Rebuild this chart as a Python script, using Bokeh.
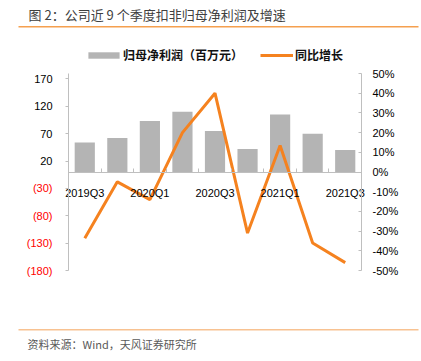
from bokeh.plotting import figure
from bokeh.models import (Range1d, LinearAxis, FixedTicker, PrintfTickFormatter, Label,
                          BoxAnnotation, Legend, LegendItem, ColumnDataSource)
from bokeh.embed import file_html
from bokeh.resources import INLINE

# ---- data ----
quarters = ["2019Q3", "2019Q4", "2020Q1", "2020Q2", "2020Q3", "2020Q4", "2021Q1", "2021Q2", "2021Q3"]
profit = [54, 62, 93, 110, 75, 42, 105, 70, 40]          # 百万元
growth = [-33.6, -5.0, -14.0, 20.0, 40.0, -31.0, 13.5, -36.0, -46.0]  # %
shown_quarters = ["2019Q3", "2020Q1", "2020Q3", "2021Q1", "2021Q3"]
left_ticks = [-180, -130, -80, -30, 20, 70, 120, 170]
right_ticks = [-50, -40, -30, -20, -10, 0, 10, 20, 30, 40, 50]

title_text = "图 2：公司近 9 个季度扣非归母净利润及增速"
source_text = "资料来源：Wind，天风证券研究所"
bar_name = "归母净利润（百万元）"
line_name = "同比增长"

CJK = "Noto Sans CJK SC"
ARIAL = "Liberation Sans"
AXIS_GRAY = "#bfbfbf"

# ---- layout (pixels) ----
W, H = 421, 361
PL, PR, PT, PB = 68, 361, 73, 270        # plot box inside the canvas
n = len(quarters)
ux = (PR - PL) / n
uy = (PB - PT) / 360.0
up = (PB - PT) / 100.0

xs = [i + 0.5 for i in range(n)]
src = ColumnDataSource(dict(x=xs, q=quarters, profit=profit, growth=growth))

p = figure(width=W, height=H,
           x_range=Range1d(-PL / ux, n + (W - PR) / ux),
           y_range=Range1d(-180 - (H - PB) / uy, 180 + PT / uy),
           output_backend="svg", toolbar_location=None,
           x_axis_location=None, y_axis_location=None,
           min_border=0)
p.extra_y_ranges = {"pct": Range1d(-50 - (H - PB) / up, 50 + PT / up)}
p.grid.visible = False
p.outline_line_color = None
p.background_fill_color = "white"
p.border_fill_color = "white"

r_bar = p.vbar(x="x", top="profit", width=0.62, source=src, fill_color="#b4b4b4", line_color=None)
r_line = p.line(x="x", y="growth", source=src, y_range_name="pct", line_color="#f5821f", line_width=3)

common = dict(major_label_text_font_size="11px", major_label_text_font=ARIAL, minor_tick_line_color=None)

# left axis: positive labels (black)
pos_ticks = [t for t in left_ticks if t >= 0]
neg_ticks = [t for t in left_ticks if t < 0]
yl = LinearAxis(fixed_location=0, bounds=(-180, 180),
                ticker=FixedTicker(ticks=pos_ticks, minor_ticks=[]),
                axis_line_color=AXIS_GRAY, major_tick_line_color=AXIS_GRAY,
                major_tick_in=0, major_tick_out=3, major_label_standoff=13,
                major_label_text_color="black", **common)
p.add_layout(yl, "left")
# left axis: negative labels in red with parentheses
yl2 = LinearAxis(fixed_location=0, bounds=(-180, 180),
                 ticker=FixedTicker(ticks=neg_ticks, minor_ticks=[]),
                 major_label_overrides={t: f"({-t})" for t in neg_ticks},
                 axis_line_color=None, major_tick_line_color=AXIS_GRAY,
                 major_tick_in=0, major_tick_out=3, major_label_standoff=13,
                 major_label_text_color="#ff0000", **common)
p.add_layout(yl2, "left")

# right axis
yr = LinearAxis(fixed_location=n, bounds=(-50, 50), y_range_name="pct",
                ticker=FixedTicker(ticks=right_ticks, minor_ticks=[]),
                formatter=PrintfTickFormatter(format="%d%%"),
                axis_line_color=AXIS_GRAY, major_tick_line_color=AXIS_GRAY,
                major_tick_in=3, major_tick_out=0, major_label_standoff=11,
                major_label_text_color="black", **common)
p.add_layout(yr, "right")

# x axis crossing at zero: labels
label_pos = [xs[quarters.index(q)] for q in shown_quarters]
xa = LinearAxis(fixed_location=0, bounds=(0, n),
                ticker=FixedTicker(ticks=label_pos, minor_ticks=[]),
                major_label_overrides={xs[quarters.index(q)]: q for q in shown_quarters},
                axis_line_color=AXIS_GRAY, major_tick_line_color=None,
                major_label_standoff=9, major_label_text_color="black", **common)
p.add_layout(xa, "below")
# x axis category-boundary ticks
bounds = list(range(1, n))
xb = LinearAxis(fixed_location=0, bounds=(0, n),
                ticker=FixedTicker(ticks=bounds, minor_ticks=[]),
                major_label_overrides={b: "" for b in bounds},
                axis_line_color=None, major_tick_line_color=AXIS_GRAY,
                major_tick_in=4, major_tick_out=0, major_label_text_font_size="1px",
                minor_tick_line_color=None)
p.add_layout(xb, "below")

# legends (two, so each key has its own size)
leg_common = dict(orientation="horizontal", padding=0, margin=0, border_line_color=None,
                  background_fill_alpha=0, label_text_font_size="12px", label_text_font=CJK,
                  label_text_font_style="bold", label_text_color="#111111", label_height=8)
leg1 = Legend(items=[LegendItem(label=bar_name, renderers=[r_bar])],
              location=(84, H - 63), glyph_width=39, glyph_height=8, label_standoff=0, **leg_common)
leg2 = Legend(items=[LegendItem(label=line_name, renderers=[r_line])],
              location=(260, H - 63), glyph_width=33, glyph_height=8, label_standoff=2, **leg_common)
p.add_layout(leg1, "center")
p.add_layout(leg2, "center")

# title, separators, source
p.add_layout(Label(x=28, y=14, x_units="canvas", y_units="canvas", text=title_text,
                   text_baseline="middle", text_font_size="13px", text_font=CJK, text_color="#404040"))
p.add_layout(BoxAnnotation(left=18, right=418, top=25.5, bottom=27, left_units="canvas",
                           right_units="canvas", top_units="canvas", bottom_units="canvas",
                           fill_color="#f5a04f", fill_alpha=1, line_color=None))
p.add_layout(BoxAnnotation(left=18, right=418, top=328.5, bottom=330, left_units="canvas",
                           right_units="canvas", top_units="canvas", bottom_units="canvas",
                           fill_color="#f8c291", fill_alpha=1, line_color=None))
p.add_layout(Label(x=27, y=343, x_units="canvas", y_units="canvas", text=source_text,
                   text_baseline="middle", text_font_size="11px", text_font=CJK, text_color="#595959"))

open("out.html", "w").write(file_html(p, INLINE))
